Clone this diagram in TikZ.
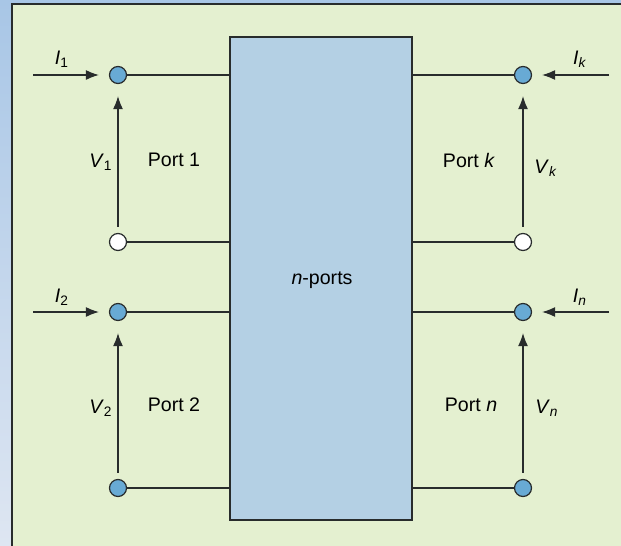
\documentclass[tikz,border=0pt]{standalone}
\usepackage{fontspec}
\setmainfont{Liberation Sans}
\usepackage{xcolor}
\usepackage{tikz}
\usetikzlibrary{arrows.meta,positioning,calc}

\definecolor{bgblue}{RGB}{168,198,230}
\definecolor{bgpale}{RGB}{222,230,242}
\definecolor{panel}{RGB}{228,240,208}
\definecolor{boxblue}{RGB}{180,208,228}
\definecolor{termblue}{RGB}{104,170,212}
\definecolor{ink}{RGB}{40,44,44}

\newcommand{\sub}[2]{\textit{#1}\textsubscript{#2}}

\begin{document}
\begin{tikzpicture}[
    x=0.5pt, y=-0.5pt,
    font=\fontsize{9.8}{11.8}\selectfont,
    nbox/.style={rectangle, draw=ink, fill=boxblue, line width=0.6pt, minimum width=91pt, minimum height=241.5pt},
    term/.style={circle, draw=ink, fill=termblue, line width=0.6pt, inner sep=0pt, minimum size=8.5pt},
    openterm/.style={term, fill=white},
    wire/.style={draw=ink, line width=0.6pt},
    arrow/.style={-{Latex[length=6.5pt,width=5pt]}, draw=ink, line width=0.6pt}
]
    \useasboundingbox (0,0) rectangle (621,546);
    \clip (0,0) rectangle (621,546);
    % background
    \shade[top color=bgblue, bottom color=bgpale] (0,0) rectangle (621,546);
    \draw[ink, line width=0.6pt, fill=panel] (12,4) rectangle (640,560);

    \node [nbox] (box) at (321,278.5) {};
    \node at (322,280) {\textit{n}-ports};

    % terminals, left
    \node [term] (t1) at (118,75) {};
    \node [openterm] (t1b) at (118,242) {};
    \node [term] (t2) at (118,312) {};
    \node [term] (t2b) at (118,488) {};
    % terminals, right
    \node [term] (tk) at (523,75) {};
    \node [openterm] (tkb) at (523,242) {};
    \node [term] (tn) at (523,312) {};
    \node [term] (tnb) at (523,488) {};

    \foreach \t in {t1,t1b,t2,t2b}
        \draw [wire] (\t) -- (\t -| box.west);
    \foreach \t in {tk,tkb,tn,tnb}
        \draw [wire] (\t) -- (\t -| box.east);

    % currents
    \coordinate (i1) at (33,75);
    \coordinate (i2) at (33,312);
    \coordinate (ik) at (609,75);
    \coordinate (in) at (609,312);
    \draw [arrow, shorten >=5pt] (i1) -- (t1);
    \draw [arrow, shorten >=5pt] (i2) -- (t2);
    \draw [arrow, shorten >=5pt] (ik) -- (tk);
    \draw [arrow, shorten >=5pt] (in) -- (tn);
    \node at (62,59) {\sub{I}{1}};
    \node at (62,297) {\sub{I}{2}};
    \node at (580,59) {\sub{I}{\textit{k}}};
    \node at (580,297) {\sub{I}{\textit{n}}};

    % voltages
    \draw [arrow, shorten <=3pt, shorten >=6pt] (t1b) -- (t1);
    \draw [arrow, shorten <=3pt, shorten >=6pt] (t2b) -- (t2);
    \draw [arrow, shorten <=3pt, shorten >=6pt] (tkb) -- (tk);
    \draw [arrow, shorten <=3pt, shorten >=6pt] (tnb) -- (tn);
    \node at (101,162) {\sub{V}{1}};
    \node at (101,408) {\sub{V}{2}};
    \node at (546,168) {\sub{V}{\textit{k}}};
    \node at (547,408) {\sub{V}{\textit{n}}};

    % port labels
    \node at (174,160) {Port 1};
    \node at (174,405) {Port 2};
    \node at (469,160) {Port \textit{k}};
    \node at (471,405) {Port \textit{n}};
\end{tikzpicture}
\end{document}
